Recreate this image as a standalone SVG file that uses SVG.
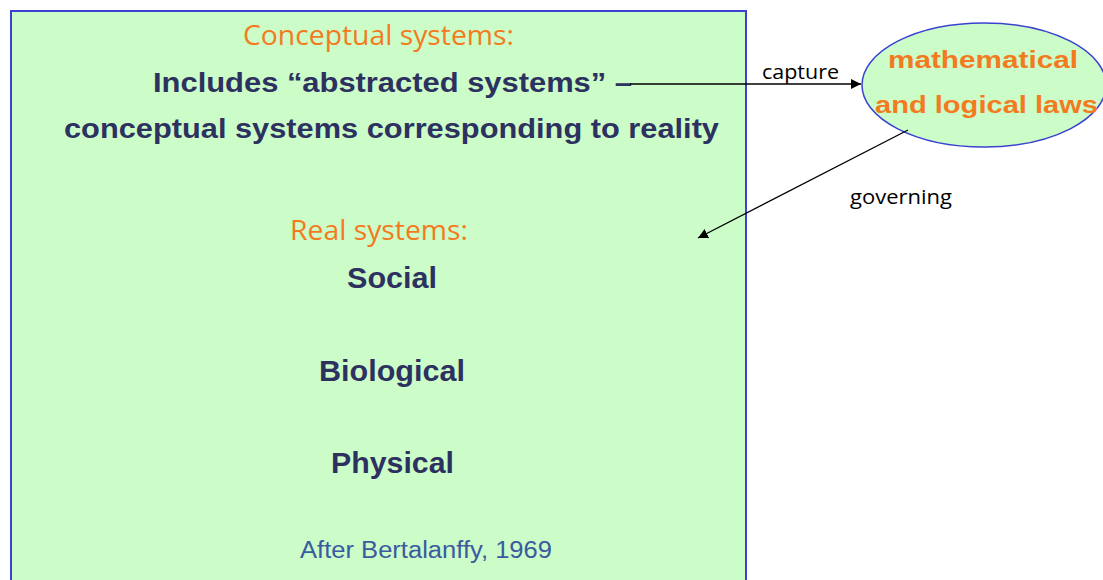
<svg xmlns="http://www.w3.org/2000/svg" width="1103" height="580" viewBox="0 0 1103 580">
<defs>
<marker id="ah" markerWidth="10" markerHeight="10" refX="10" refY="5" orient="auto" markerUnits="userSpaceOnUse">
<path d="M0,0 L10,5 L0,10 Z" fill="#000"/>
</marker>
<style>
.or{font-family:"Open Sans","Noto Sans",sans-serif;fill:#f47a20;font-size:27px}
.bd{font-family:"Liberation Sans",Arial,sans-serif;font-weight:bold;fill:#2d3160;font-size:28px}
.bs{font-family:"Liberation Sans",Arial,sans-serif;font-weight:bold;fill:#2d3160;font-size:29px}
.lb{font-family:"Open Sans","Noto Sans",sans-serif;fill:#000;font-size:20px}
.ml{font-family:"Liberation Sans",Arial,sans-serif;font-weight:bold;fill:#f47a20;font-size:23px}
.ft{font-family:"Liberation Sans",Arial,sans-serif;fill:#3b5aa0;font-size:23px}
</style>
</defs>
<rect width="1103" height="580" fill="#fff"/>
<g id="box">
<rect x="11" y="11" width="735" height="580" fill="#ccfcc8" stroke="#3b42d0" stroke-width="2"/>
<text class="or" x="243" y="45" textLength="271" lengthAdjust="spacingAndGlyphs">Conceptual systems:</text>
<text class="bd" x="153" y="92" textLength="479" lengthAdjust="spacingAndGlyphs">Includes “abstracted systems” –</text>
<text class="bd" x="64" y="138" textLength="655" lengthAdjust="spacingAndGlyphs">conceptual systems corresponding to reality</text>
<text class="or" x="290" y="240" textLength="178" lengthAdjust="spacingAndGlyphs">Real systems:</text>
<text class="bs" x="347" y="288" textLength="90" lengthAdjust="spacingAndGlyphs">Social</text>
<text class="bs" x="319" y="381" textLength="146" lengthAdjust="spacingAndGlyphs">Biological</text>
<text class="bs" x="331" y="473" textLength="123" lengthAdjust="spacingAndGlyphs">Physical</text>
<text class="ft" x="300" y="558" textLength="252" lengthAdjust="spacingAndGlyphs">After Bertalanffy, 1969</text>
</g>
<g id="laws">
<ellipse cx="984" cy="85" rx="122" ry="62" fill="#ccfcc8" stroke="#3b42d0" stroke-width="1.5"/>
<text class="ml" x="888" y="68" textLength="190" lengthAdjust="spacingAndGlyphs">mathematical</text>
<text class="ml" x="875" y="113" textLength="223" lengthAdjust="spacingAndGlyphs">and logical laws</text>
</g>
<g id="connectors">
<line x1="630" y1="84" x2="861" y2="84" stroke="#000" stroke-width="1.3" marker-end="url(#ah)"/>
<text class="lb" x="762" y="79" textLength="77" lengthAdjust="spacingAndGlyphs">capture</text>
<line x1="908" y1="130" x2="698" y2="238" stroke="#000" stroke-width="1.3" marker-end="url(#ah)"/>
<text class="lb" x="850" y="204" textLength="102" lengthAdjust="spacingAndGlyphs">governing</text>
</g>
</svg>
